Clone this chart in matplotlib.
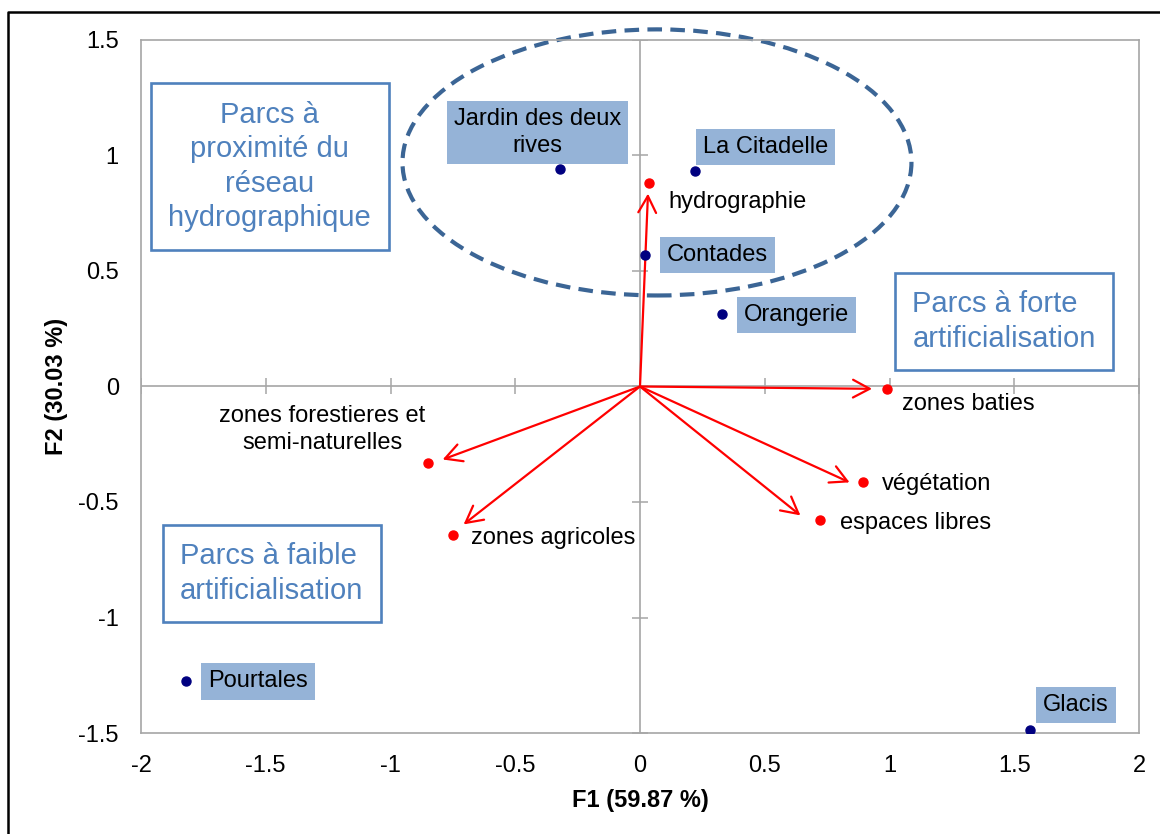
import matplotlib.pyplot as plt
from matplotlib.patches import Ellipse
import numpy as np

plt.rcParams['font.family'] = ['Liberation Sans', 'DejaVu Sans']
plt.rcParams['axes.unicode_minus'] = False

# parcs (individus)
parcs = ["Jardin des deux\nrives", "La Citadelle", "Contades", "Orangerie", "Pourtales", "Glacis"]
parcs_f1 = [-0.32, 0.221, 0.02, 0.329, -1.819, 1.562]
parcs_f2 = [0.94, 0.931, 0.571, 0.312, -1.273, -1.485]

# variables
variables = ["hydrographie", "zones baties", "zones forestieres et\nsemi-naturelles",
             "zones agricoles", "végétation", "espaces libres"]
var_f1 = [0.036, 0.99, -0.851, -0.751, 0.895, 0.72]
var_f2 = [0.879, -0.01, -0.333, -0.645, -0.415, -0.58]
# bouts des fleches
fleche_f1 = [0.032, 0.93, -0.791, -0.707, 0.84, 0.643]
fleche_f2 = [0.835, -0.01, -0.316, -0.597, -0.415, -0.558]

xticks = [-2, -1.5, -1, -0.5, 0, 0.5, 1, 1.5, 2]
yticks = [-1.5, -1, -0.5, 0, 0.5, 1, 1.5]

grey = "#A6A6A6"
bleu = "#4F81BD"

fig = plt.figure(figsize=(11.6, 8.34), dpi=100)
ax = fig.add_axes([141/1160, 1-733/834, 998/1160, 693/834])
ax.set_xlim(-2, 2)
ax.set_ylim(-1.5, 1.5)
for s in ax.spines.values():
    s.set_color(grey)
    s.set_linewidth(1.2)
ax.set_xticks(xticks)
ax.set_yticks(yticks)
ax.set_xticklabels([f"{t:g}" for t in xticks])
ax.set_yticklabels([f"{t:g}" for t in yticks])
ax.tick_params(length=0, labelsize=17, pad=16)

ax.axhline(0, color=grey, lw=1.2, zorder=1)
ax.axvline(0, color=grey, lw=1.2, zorder=1)
ax.plot(xticks, np.zeros(len(xticks)), ls="none", marker="|", ms=11, mew=1.1, color=grey, zorder=1)
ax.plot(np.zeros(len(yticks)), yticks, ls="none", marker="_", ms=11, mew=1.1, color=grey, zorder=1)

ax.set_xlabel("F1 (59.87 %)", fontsize=17, fontweight="bold")
ax.set_ylabel("F2 (30.03 %)", fontsize=17, fontweight="bold")
ax.xaxis.label.set_va("center")
ax.xaxis.set_label_coords(0.5, -67/693)
ax.yaxis.label.set_va("center")
ax.yaxis.set_label_coords(-84/998, 0.5)

# fleches
for fx, fy in zip(fleche_f1, fleche_f2):
    ax.annotate("", xy=(fx, fy), xytext=(0, 0),
                arrowprops=dict(arrowstyle="->,head_length=0.6,head_width=0.32",
                                color="red", lw=1.6, shrinkA=0, shrinkB=0,
                                mutation_scale=20), zorder=3)

ax.plot(var_f1, var_f2, ls="none", marker="o", ms=6.5, color="red", zorder=4)
ax.plot(parcs_f1, parcs_f2, ls="none", marker="o", ms=6.5, color="#000080", zorder=4)

# etiquettes des variables
var_pos = [(0.112, 0.80, "left"), (1.05, -0.074, "left"), (-1.273, -0.186, "center"),
           (-0.679, -0.658, "left"), (0.97, -0.42, "left"), (0.80, -0.589, "left")]
for lab, (tx, ty, ha) in zip(variables, var_pos):
    ax.text(tx, ty, lab, fontsize=17, ha=ha, va="center", linespacing=1.28, zorder=5)

# etiquettes des parcs
parc_pos = [(-0.41, 1.10), (0.504, 1.037), (0.311, 0.569), (0.627, 0.31), (-1.53, -1.277), (1.747, -1.38)]
for lab, (tx, ty) in zip(parcs, parc_pos):
    ax.text(tx, ty, lab, fontsize=17, ha="center", va="center", linespacing=1.28, zorder=5,
            bbox=dict(boxstyle="square,pad=0.3", fc="#95B3D7", ec="none"))

# groupes
box = dict(boxstyle="square,pad=0.6", fc="white", ec=bleu, lw=1.9)
ax.text(-1.484, 0.952, "Parcs à\nproximité du\nréseau\nhydrographique", fontsize=21,
        color=bleu, ha="center", va="center", linespacing=1.3, bbox=box, zorder=5)
ax.text(1.092, 0.281, "Parcs à forte\nartificialisation", fontsize=21,
        color=bleu, ha="left", va="center", linespacing=1.3, bbox=box, zorder=5)
ax.text(-1.843, -0.81, "Parcs à faible\nartificialisation", fontsize=21,
        color=bleu, ha="left", va="center", linespacing=1.3, bbox=box, zorder=5)

ax.add_patch(Ellipse((0.068, 0.97), 2.04, 1.152, fill=False, ec="#3B6595", lw=3,
                     ls=(0, (3.5, 2)), clip_on=False, zorder=2))

# cadre
fig.add_artist(plt.Line2D([8/1160, 8/1160, 1], [0, 1-12/834, 1-12/834], color="black", lw=1.8))

fig.savefig("out.png", dpi=100)
